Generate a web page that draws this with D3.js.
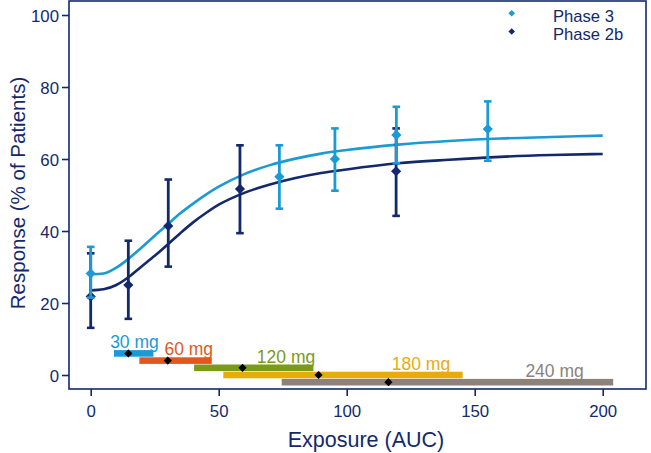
<!DOCTYPE html>
<html>
<head>
<meta charset="utf-8">
<script src="https://cdn.jsdelivr.net/npm/d3@7"></script>
<style>
  html, body { margin: 0; padding: 0; background: #ffffff; }
  svg { display: block; font-family: "Liberation Sans", Arial, Helvetica, sans-serif; }
</style>
</head>
<body>
<svg id="chart" width="651" height="453"></svg>
<script>
// ---------- data ----------
const xTicks = [0, 50, 100, 150, 200];
const yTicks = [0, 20, 40, 60, 80, 100];

// Phase 3 observed (exposure, response %, CI low, CI high)
const p3X  = [0, 73.7, 95.4, 119.4, 155.1];
const p3Y  = [28.2, 55.1, 60.0, 66.7, 68.3];
const p3Lo = [21.5, 46.2, 51.2, 58.8, 59.5];
const p3Hi = [35.6, 63.8, 68.5, 74.5, 76.0];

// Phase 2b observed
const p2X  = [0, 14.7, 30.3, 58.3, 119.3];
const p2Y  = [21.8, 25.0, 41.4, 51.7, 56.6];
const p2Lo = [13.1, 15.6, 30.1, 39.4, 44.2];
const p2Hi = [33.8, 37.3, 54.3, 63.8, 68.5];

// Fitted curves
const curveX   = [0, 5, 10, 15, 20, 25, 30, 35, 40, 45, 50, 60, 70, 80, 90, 100, 120, 140, 160, 180, 200];
const curveP3  = [28.0, 28.2, 29.8, 32.4, 35.5, 38.7, 41.8, 44.9, 47.6, 50.1, 52.3, 55.8, 58.3, 60.1, 61.5, 62.5, 64.0, 65.0, 65.7, 66.1, 66.5];
const curveP2b = [23.5, 23.8, 25.0, 27.3, 30.2, 33.1, 36.2, 39.4, 42.4, 45.0, 47.3, 50.6, 52.9, 54.7, 56.1, 57.1, 58.8, 59.8, 60.6, 61.1, 61.4];

// Dose exposure ranges
const doseLabels = ["30 mg", "60 mg", "120 mg", "180 mg", "240 mg"];
const doseMin    = [9.1, 19.0, 40.4, 51.8, 74.6];
const doseMax    = [24.5, 47.3, 87.0, 145.3, 204.1];
const doseMean   = [14.7, 30.1, 59.3, 89.0, 116.3];
const doseLevel  = [6, 4, 2, 0, -2];
const doseLabelX = [17.1, 38.3, 76.3, 129.0, 181.2];
const doseColors = ["#1b9ad6", "#e2571d", "#7b9a18", "#e9ab0c", "#8b827a"];

const seriesNames = ["Phase 3", "Phase 2b"];
const seriesColors = ["#1b9ad6", "#13296c"];

// ---------- layout ----------
const navy = "#13296c";
const svg = d3.select("#chart");
const x = d3.scaleLinear().domain([0, 200]).range([90.7, 602.7]);
const y = d3.scaleLinear().domain([0, 100]).range([375, 15]);
const frame = {left: 69, right: 646, top: 1, bottom: 389};

// frame
svg.append("rect")
  .attr("x", frame.left).attr("y", frame.top)
  .attr("width", frame.right - frame.left).attr("height", frame.bottom - frame.top)
  .attr("fill", "none").attr("stroke", navy).attr("stroke-width", 1.6);

// axes
const xAxis = svg.append("g").attr("transform", `translate(0,${frame.bottom})`)
  .call(d3.axisBottom(x).tickValues(xTicks).tickSize(7).tickPadding(6).tickFormat(d3.format("d")));
const yAxis = svg.append("g").attr("transform", `translate(${frame.left},0)`)
  .call(d3.axisLeft(y).tickValues(yTicks).tickSize(7).tickPadding(3).tickFormat(d3.format("d")));
[xAxis, yAxis].forEach(a => {
  a.select(".domain").remove();
  a.selectAll(".tick line").attr("stroke", navy).attr("stroke-width", 1.6);
  a.selectAll(".tick text").attr("fill", navy).style("font-size", "16.8px")
    .style("font-family", "'Liberation Sans', Arial, sans-serif");
});
xAxis.selectAll(".tick text").attr("dy", "0").attr("y", 28);
yAxis.selectAll(".tick text").attr("dy", "0.36em");

// axis titles
svg.append("text").attr("x", 366).attr("y", 447).attr("text-anchor", "middle")
  .attr("fill", navy).style("font-size", "21.5px").text("Exposure (AUC)");
svg.append("text").attr("transform", "translate(25,193) rotate(-90)").attr("text-anchor", "middle")
  .attr("fill", navy).style("font-size", "20.5px").text("Response (% of Patients)");

// curves
const line = d3.line().x(d => x(d[0])).y(d => y(d[1])).curve(d3.curveMonotoneX);
svg.append("path").datum(curveX.map((v, i) => [v, curveP2b[i]]))
  .attr("d", line).attr("fill", "none").attr("stroke", seriesColors[1]).attr("stroke-width", 2.6);
svg.append("path").datum(curveX.map((v, i) => [v, curveP3[i]]))
  .attr("d", line).attr("fill", "none").attr("stroke", seriesColors[0]).attr("stroke-width", 2.6);

// diamond generator
const diamond = (size) => d3.symbol().type(d3.symbolSquare).size(size)();

function drawSeries(xs, ys, lo, hi, color) {
  const g = svg.append("g");
  const data = xs.map((v, i) => ({x: v, y: ys[i], lo: lo[i], hi: hi[i]}));
  g.selectAll("line.v").data(data).enter().append("line")
    .attr("x1", d => x(d.x)).attr("x2", d => x(d.x))
    .attr("y1", d => y(d.lo)).attr("y2", d => y(d.hi))
    .attr("stroke", color).attr("stroke-width", 2.8);
  ["lo", "hi"].forEach(k => {
    g.selectAll("line." + k).data(data).enter().append("line")
      .attr("x1", d => x(d.x) - 3.8).attr("x2", d => x(d.x) + 3.8)
      .attr("y1", d => y(d[k])).attr("y2", d => y(d[k]))
      .attr("stroke", color).attr("stroke-width", 2.6);
  });
  g.selectAll("path").data(data).enter().append("path")
    .attr("d", diamond(52))
    .attr("transform", d => `translate(${x(d.x)},${y(d.y)}) rotate(45)`)
    .attr("fill", color);
}
drawSeries(p2X, p2Y, p2Lo, p2Hi, seriesColors[1]);
drawSeries(p3X, p3Y, p3Lo, p3Hi, seriesColors[0]);

// dose range bars
const doses = doseLabels.map((l, i) => ({label: l, min: doseMin[i], max: doseMax[i], mean: doseMean[i],
  lvl: doseLevel[i], lx: doseLabelX[i], color: doseColors[i]}));
const barH = 6.6;
svg.append("g").selectAll("rect").data(doses).enter().append("rect")
  .attr("x", d => x(d.min)).attr("width", d => x(d.max) - x(d.min))
  .attr("y", d => y(d.lvl) - barH / 2).attr("height", barH)
  .attr("fill", d => d.color);
svg.append("g").selectAll("path").data(doses).enter().append("path")
  .attr("d", diamond(34))
  .attr("transform", d => `translate(${x(d.mean)},${y(d.lvl)}) rotate(45)`)
  .attr("fill", "#000");
svg.append("g").selectAll("text").data(doses).enter().append("text")
  .attr("x", d => x(d.lx)).attr("y", d => y(d.lvl) - 5.2)
  .attr("text-anchor", "middle").attr("fill", d => d.color)
  .style("font-size", "17.5px").text(d => d.label);

// legend
const legY = [13.3, 31.5];
seriesNames.forEach((n, i) => {
  svg.append("path").attr("d", diamond(22))
    .attr("transform", `translate(511.7,${legY[i]}) rotate(45)`).attr("fill", seriesColors[i]);
  svg.append("text").attr("x", 553).attr("y", legY[i] + 8.3).attr("fill", navy)
    .style("font-size", "16.6px").text(n);
});
</script>
</body>
</html>
